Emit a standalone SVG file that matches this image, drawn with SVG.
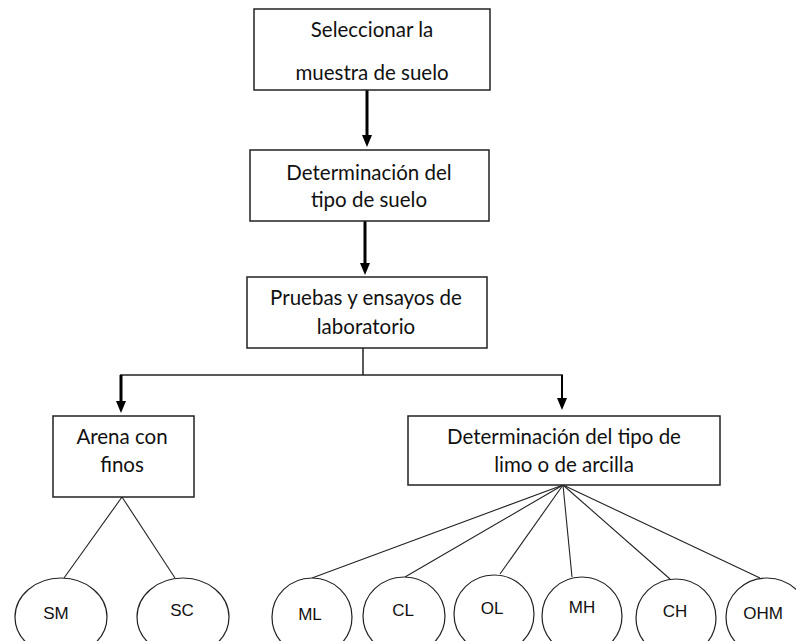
<svg xmlns="http://www.w3.org/2000/svg" width="796" height="641" viewBox="0 0 796 641">
<defs>
<style>
.box{fill:#fff;stroke:#222;stroke-width:1.5}
.t{font-family:Lato,"Open Sans",sans-serif;font-size:20.5px;fill:#111;text-anchor:middle}
.e{fill:#fff;stroke:#222;stroke-width:1.2}
.et{font-family:"Liberation Sans",Arial,sans-serif;font-size:17px;fill:#111;text-anchor:middle}
.thick{stroke:#000;stroke-width:3;fill:none}
.med{stroke:#000;stroke-width:2;fill:none}
.thin{stroke:#222;stroke-width:1.5;fill:none}
.fan{stroke:#222;stroke-width:1.1;fill:none}
</style>
<marker id="ah" markerWidth="12" markerHeight="12" refX="0" refY="5" orient="auto" markerUnits="userSpaceOnUse" viewBox="0 0 12 10">
<path d="M0,0 L12,5 L0,10 Z" fill="#000"/>
</marker>
</defs>
<rect width="796" height="641" fill="#fff"/>
<g id="connectors">
<line class="thick" x1="367" y1="90" x2="367" y2="135" marker-end="url(#ah)"/>
<line class="thick" x1="365" y1="221" x2="365" y2="263" marker-end="url(#ah)"/>
<polyline class="thin" points="363,348 363,375"/>
<line class="thin" x1="120" y1="375" x2="563" y2="375"/>
<line class="thick" x1="121" y1="375" x2="121" y2="401" marker-end="url(#ah)"/>
<line class="med" x1="562" y1="375" x2="562" y2="398" marker-end="url(#ah)"/>
<line class="fan" x1="122" y1="497" x2="64" y2="578"/>
<line class="fan" x1="122" y1="497" x2="175" y2="578"/>
<line class="fan" x1="563" y1="485" x2="312" y2="578"/>
<line class="fan" x1="563" y1="485" x2="405" y2="577"/>
<line class="fan" x1="563" y1="485" x2="500" y2="574"/>
<line class="fan" x1="563" y1="485" x2="572" y2="577"/>
<line class="fan" x1="563" y1="485" x2="670" y2="579"/>
<line class="fan" x1="563" y1="485" x2="760" y2="578"/>
</g>
<g id="n1">
<rect class="box" x="254" y="9" width="236" height="81"/>
<text class="t" x="372" y="37">Seleccionar la</text>
<text class="t" x="372" y="80">muestra de suelo</text>
</g>
<g id="n2">
<rect class="box" x="250" y="150" width="239" height="71"/>
<text class="t" x="369" y="180">Determinación del</text>
<text class="t" x="369" y="207">tipo de suelo</text>
</g>
<g id="n3">
<rect class="box" x="247" y="277" width="240" height="71"/>
<text class="t" x="366" y="305">Pruebas y ensayos de</text>
<text class="t" x="366" y="334">laboratorio</text>
</g>
<g id="n4">
<rect class="box" x="53" y="416" width="141" height="81"/>
<text class="t" x="122" y="444">Arena con</text>
<text class="t" x="122" y="472">finos</text>
</g>
<g id="n5">
<rect class="box" x="408" y="416" width="312" height="69"/>
<text class="t" x="564" y="444">Determinación del tipo de</text>
<text class="t" x="564" y="472">limo o de arcilla</text>
</g>
<g id="sm"><ellipse class="e" cx="61" cy="617" rx="46" ry="39"/><text class="et" x="56" y="619">SM</text></g>
<g id="sc"><ellipse class="e" cx="183" cy="617" rx="46" ry="39"/><text class="et" x="182" y="616">SC</text></g>
<g id="ml"><ellipse class="e" cx="312" cy="617" rx="40" ry="39"/><text class="et" x="310" y="620">ML</text></g>
<g id="cl"><ellipse class="e" cx="404" cy="616" rx="41" ry="39"/><text class="et" x="403" y="616">CL</text></g>
<g id="ol"><ellipse class="e" cx="494" cy="614" rx="40" ry="39"/><text class="et" x="492" y="614">OL</text></g>
<g id="mh"><ellipse class="e" cx="582" cy="616" rx="40" ry="39"/><text class="et" x="582" y="613">MH</text></g>
<g id="ch"><ellipse class="e" cx="676" cy="618" rx="40" ry="39"/><text class="et" x="675" y="617">CH</text></g>
<g id="ohm"><ellipse class="e" cx="767" cy="617" rx="41" ry="39"/><text class="et" x="763" y="619">OHM</text></g>
</svg>
